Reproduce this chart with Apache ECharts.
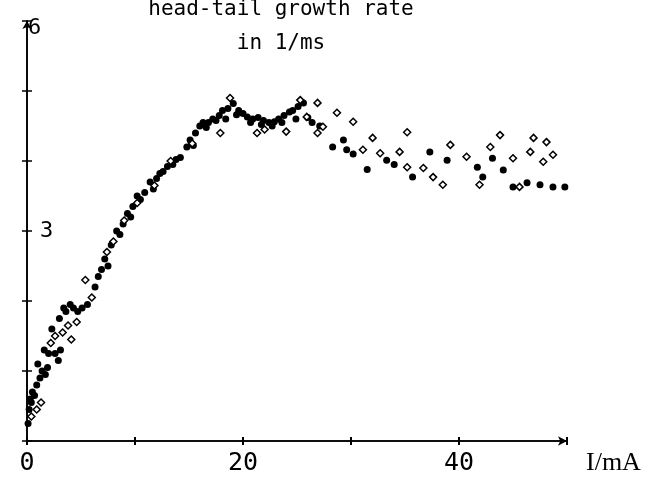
<!DOCTYPE html>
<html>
<head>
<meta charset="utf-8">
<script src="https://cdn.jsdelivr.net/npm/echarts@6/dist/echarts.min.js"></script>
<style>html,body{margin:0;padding:0;background:#fff}#c{width:651px;height:477px}</style>
</head>
<body>
<div id="c"></div>
<script>
const titleLines = ['head-tail growth rate', 'in 1/ms'];
const xName = 'I/mA';
const xLabelValues = [0, 20, 40];
const yLabelValues = [3, 6];

// filled marks: [I (mA), growth rate (1/ms)]
const filledPoints = [
  [0.1,0.25],[0.2,0.45],[0.3,0.6],[0.5,0.7],[0.7,0.65],[0.9,0.8],[1.2,0.9],[1.4,1.0],[1.7,0.95],
  [1.6,1.3],[2.0,1.25],[2.9,1.15],[3.1,1.3],[2.3,1.6],[3.0,1.75],[3.6,1.85],[4.3,1.9],[5.1,1.9],
  [5.6,1.95],[6.3,2.2],[6.6,2.35],[6.9,2.45],[7.2,2.6],[7.8,2.8],[8.3,3.0],[8.9,3.1],[9.3,3.25],
  [9.8,3.35],[10.5,3.45],[10.9,3.55],[11.4,3.7],[12.0,3.75],[12.6,3.85],[13.0,3.92],[13.5,3.95],
  [14.2,4.05],[14.8,4.2],[15.1,4.3],[15.6,4.4],[16.0,4.5],[16.3,4.55],[16.8,4.55],[17.2,4.6],
  [17.5,4.58],[18.1,4.72],[18.6,4.75],[19.1,4.82],[19.6,4.72],[20.0,4.68],[20.4,4.63],[20.9,4.6],
  [21.4,4.62],[21.9,4.58],[22.4,4.55],[22.9,4.56],[23.3,4.6],[23.8,4.65],[24.3,4.7],[24.6,4.72],
  [25.1,4.78],[25.6,4.83],[26.0,4.62],[27.1,4.5],[28.3,4.2],[29.3,4.3],[29.6,4.16],[30.2,4.1],
  [31.5,3.88],[33.3,4.01],[34.0,3.95],[35.7,3.77],[37.3,4.13],[38.9,4.01],[41.7,3.91],[42.2,3.77],
  [43.1,4.04],[44.1,3.87],[45.0,3.63],[46.3,3.69],[47.5,3.66],[48.7,3.63],[49.8,3.63],
  [0.4,0.55],[1.0,1.1],[1.9,1.05],[2.6,1.25],[3.4,1.9],[4.0,1.95],[4.7,1.85],[7.5,2.5],[8.6,2.95],
  [9.6,3.2],[10.2,3.5],[11.7,3.6],[12.3,3.82],[13.8,4.02],[15.4,4.22],[16.6,4.48],[17.8,4.65],
  [18.4,4.6],[19.4,4.66],[20.7,4.55],[21.7,4.52],[22.7,4.5],[23.6,4.55],[24.9,4.6],[26.4,4.55]
];

// open marks
const openPoints = [
  [0.4,0.35],[0.9,0.45],[1.3,0.55],[2.2,1.4],[2.6,1.5],[3.3,1.55],[3.8,1.65],[4.1,1.45],
  [4.6,1.7],[5.4,2.3],[6.0,2.05],[7.4,2.7],[8.0,2.85],[9.0,3.15],[10.2,3.4],[11.8,3.65],
  [13.3,4.0],[15.3,4.25],[17.9,4.4],[18.8,4.9],[21.3,4.4],[22.0,4.45],[24.0,4.42],[25.3,4.87],
  [26.9,4.83],[25.9,4.63],[26.9,4.4],[27.4,4.49],[28.7,4.69],[30.2,4.56],[31.1,4.16],[32.0,4.33],
  [32.7,4.11],[34.5,4.13],[35.2,4.41],[35.2,3.91],[36.7,3.9],[37.6,3.77],[38.5,3.66],[39.2,4.23],
  [40.7,4.06],[41.9,3.66],[42.9,4.2],[43.8,4.37],[45.0,4.04],[45.6,3.63],[46.6,4.13],[46.9,4.33],
  [47.8,3.99],[48.1,4.27],[48.7,4.09]
];

const font = 'DejaVu Sans Mono';
const chart = echarts.init(document.getElementById('c'), null, {renderer: 'canvas'});

const baseX = {
  type: 'value', min: 0, max: 50, interval: 10,
  axisLine: {show: true, lineStyle: {color: '#000', width: 1.6}},
  splitLine: {show: false}
};
const baseY = {
  type: 'value', min: 0, max: 6, interval: 1,
  axisLine: {show: true, lineStyle: {color: '#000', width: 1.6}},
  splitLine: {show: false}
};

chart.setOption({
  backgroundColor: '#fff',
  animation: false,
  title: {
    text: titleLines.join('\n'),
    left: 276, top: -12, textAlign: 'center',
    textStyle: {fontFamily: font, fontSize: 21, fontWeight: 'normal', color: '#000', lineHeight: 34}
  },
  grid: {left: 27, right: 84, top: 21, bottom: 36, containLabel: false},
  xAxis: [
    Object.assign({}, baseX, {
      position: 'bottom',
      axisLine: {show: true, symbol: ['none', 'arrow'], symbolSize: [7, 9], lineStyle: {color: '#000', width: 1.6}},
      axisTick: {show: true, inside: false, length: 4, lineStyle: {color: '#000', width: 2}},
      axisLabel: {
        margin: 10, color: '#000', fontFamily: font, fontSize: 25,
        formatter: v => xLabelValues.includes(v) ? String(v) : ''
      },
      name: xName, nameLocation: 'end', nameGap: 19,
      nameTextStyle: {fontFamily: 'Liberation Serif', fontSize: 26, color: '#000', verticalAlign: 'top', padding: [9, 0, 0, 0]}
    }),
    Object.assign({}, baseX, {
      position: 'bottom',
      axisTick: {show: true, inside: true, length: 4, lineStyle: {color: '#000', width: 2}},
      axisLabel: {show: false}
    })
  ],
  yAxis: [
    Object.assign({}, baseY, {
      position: 'left',
      axisLine: {show: true, symbol: ['none', 'arrow'], symbolSize: [7, 8], lineStyle: {color: '#000', width: 1.6}},
      axisTick: {show: true, inside: false, length: 5, lineStyle: {color: '#000', width: 1.5}},
      axisLabel: {
        inside: true, margin: 1, color: '#000', fontFamily: font, fontSize: 22,
        formatter: v => yLabelValues.includes(v) ? (v === 6 ? '{s|6}' : '{t|3}') : '',
        rich: {
          s: {fontFamily: font, fontSize: 22, color: '#000', padding: [14, 0, 0, 0]},
          t: {fontFamily: font, fontSize: 22, color: '#000', padding: [0, 0, 0, 12]}
        }
      }
    }),
    Object.assign({}, baseY, {
      position: 'left', offset: 0,
      axisTick: {show: true, inside: true, length: 5, lineStyle: {color: '#000', width: 1.5}},
      axisLabel: {show: false}
    })
  ],
  series: [
    {
      name: 'filled', type: 'scatter', xAxisIndex: 0, yAxisIndex: 0,
      data: filledPoints, symbol: 'circle', symbolSize: 7,
      itemStyle: {color: '#000', opacity: 1}
    },
    {
      name: 'open', type: 'scatter', xAxisIndex: 0, yAxisIndex: 0,
      data: openPoints, symbol: 'diamond', symbolSize: 7,
      itemStyle: {color: '#fff', borderColor: '#000', borderWidth: 1.5, opacity: 1}
    }
  ]
});
</script>
</body>
</html>
